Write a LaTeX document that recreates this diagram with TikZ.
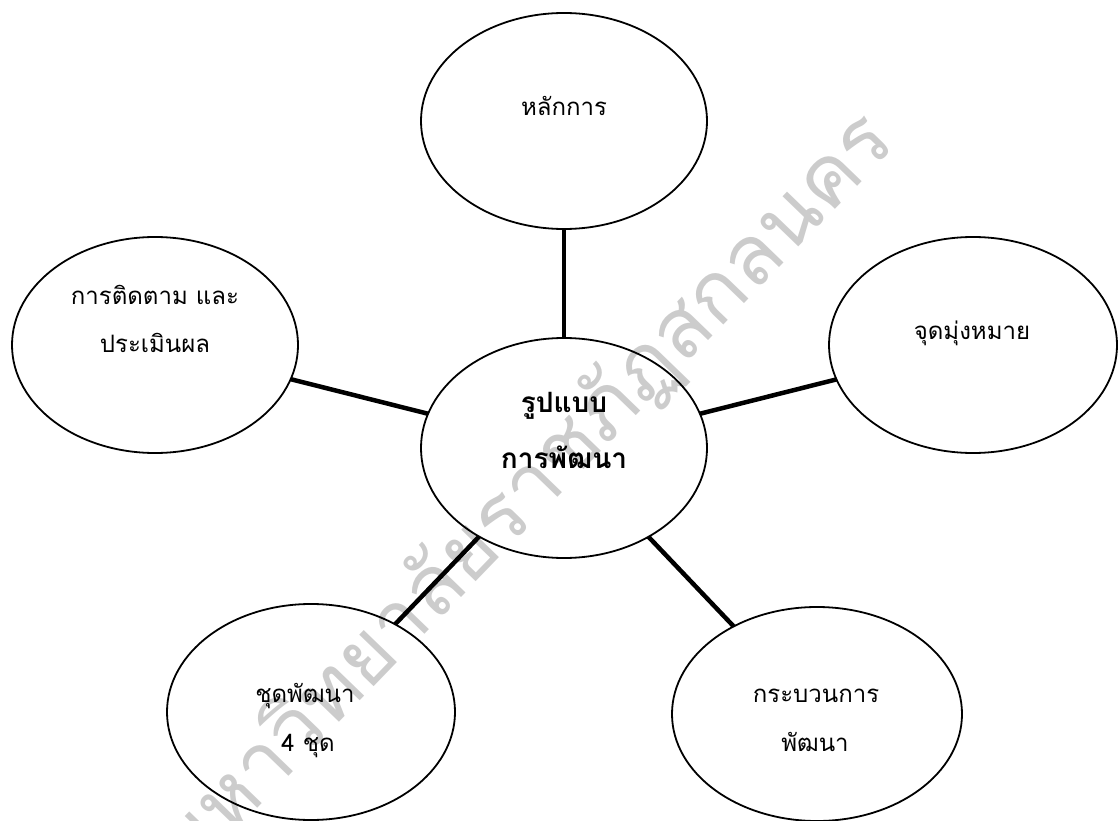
\documentclass[tikz,border=0pt]{standalone}
\usepackage{fontspec}
\newfontfamily\thaifont[Script=Thai]{Loma}
\usetikzlibrary{shapes.geometric}
\begin{document}
\begin{tikzpicture}[x=1pt,y=-1pt,
  bubble/.style={shape=ellipse,draw=black,line width=1.8pt,inner sep=0pt,outer sep=0pt},
  conn/.style={line width=4.5pt,black},
  lbl/.style={font=\thaifont\fontsize{24}{28}\selectfont,anchor=base,inner sep=0pt},
  blbl/.style={font=\thaifont\bfseries\fontsize{28}{32}\selectfont,anchor=base,inner sep=0pt},
  wmark/.style={font=\thaifont\fontsize{83}{93}\selectfont,text=black!20,rotate=46,inner sep=0pt}]
\useasboundingbox (0,0) rectangle (1119,821);
% watermark
\node[wmark] (wm) at (526,494) {มหาวิทยาลัยราชภัฏสกลนคร};
% bubbles
\node[bubble,minimum width=286pt,minimum height=216pt] (top) at (564,121) {};
\node[bubble,minimum width=286pt,minimum height=220pt] (ctr) at (564,448) {};
\node[bubble,minimum width=286pt,minimum height=216pt] (lft) at (155,345) {};
\node[bubble,minimum width=288pt,minimum height=216pt] (rgt) at (973,345) {};
\node[bubble,minimum width=288pt,minimum height=216pt] (bl) at (311,712) {};
\node[bubble,minimum width=290pt,minimum height=214pt] (br) at (817,714) {};
% connectors
\draw[conn] (ctr) -- (top);
\draw[conn] (ctr) -- (lft);
\draw[conn] (ctr) -- (rgt);
\draw[conn] (ctr) -- (bl);
\draw[conn] (ctr) -- (br);
% labels
\node[lbl] (tTop) at (564,116) {หลักการ};
\node[blbl] (tC1) at (564,412) {รูปแบบ};
\node[blbl] (tC2) at (564,468) {การพัฒนา};
\node[lbl] (tL1) at (155,304) {การติดตาม และ};
\node[lbl] (tL2) at (155,352) {ประเมินผล};
\node[lbl] (tR) at (972,339) {จุดมุ่งหมาย};
\node[lbl] (tBL1) at (305,702) {ชุดพัฒนา};
\node[lbl] (tBL2) at (308,751) {4 ชุด};
\node[lbl] (tBR1) at (816,702) {กระบวนการ};
\node[lbl] (tBR2) at (815,751) {พัฒนา};
\end{tikzpicture}
\end{document}
